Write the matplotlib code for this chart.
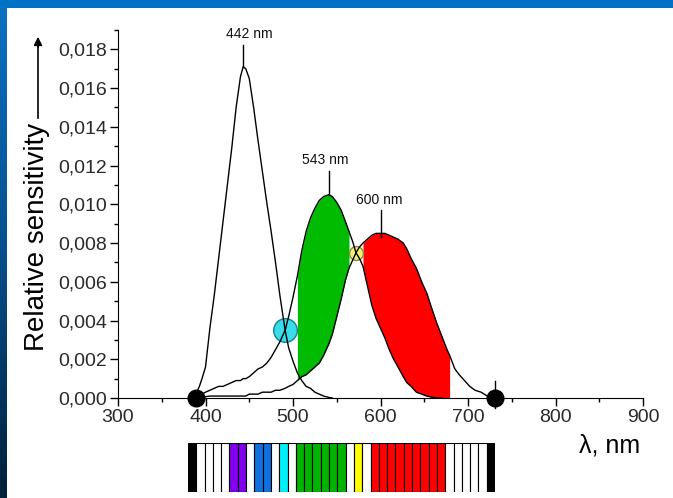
import numpy as np
import matplotlib
matplotlib.use('Agg')
import matplotlib.pyplot as plt
from matplotlib.patches import Rectangle
from matplotlib.colors import LinearSegmentedColormap
from matplotlib.ticker import MultipleLocator, FuncFormatter

plt.rcParams['font.family'] = ['Liberation Sans', 'DejaVu Sans']

# wavelength grid (nm) and cone sensitivities
wl = np.array([386, 389, 393, 396, 400, 405, 410, 415, 420, 425, 430, 435, 440, 443, 446,
               450, 455, 460, 465, 470, 475, 480, 485, 491, 495, 500, 505, 510, 515, 520,
               525, 530, 535, 541, 545, 550, 555, 560, 564, 568, 572, 576, 580, 585, 590,
               595, 600, 605, 610, 615, 620, 626, 630, 635, 641, 647, 653, 658, 664, 670,
               676, 679, 685, 690, 696, 702, 708, 715, 722, 731])
nan = np.nan
S_cone = np.array([0.0, 0.0002, 0.0006, 0.0010, 0.0016, 0.0036, 0.0053, 0.0072, 0.0091, 0.0110,
                   0.0129, 0.0150, 0.0166, 0.0171, 0.0170, 0.0165, 0.0150, 0.0133, 0.0117, 0.0101,
                   0.0086, 0.0070, 0.0053, 0.0035, 0.0026, 0.0019, 0.0013, 0.0009, 0.0006, 0.0005,
                   0.0003, 0.0002, 0.0001, 0.00003, 0.0, nan, nan, nan, nan, nan,
                   nan, nan, nan, nan, nan, nan, nan, nan, nan, nan,
                   nan, nan, nan, nan, nan, nan, nan, nan, nan, nan,
                   nan, nan, nan, nan, nan, nan, nan, nan, nan, nan])
M_cone = np.array([nan, 0.0, 0.0001, 0.0002, 0.0003, 0.0004, 0.0005, 0.0006, 0.0006, 0.0007,
                   0.0008, 0.0009, 0.0009, 0.0010, 0.0010, 0.0011, 0.0013, 0.0015, 0.0016, 0.0018,
                   0.0021, 0.0025, 0.0029, 0.0035, 0.0042, 0.0052, 0.0063, 0.0076, 0.0086, 0.0093,
                   0.0098, 0.0102, 0.0104, 0.0105, 0.0104, 0.0101, 0.0097, 0.0091, 0.0086, 0.0081,
                   0.0075, 0.0072, 0.0068, 0.0058, 0.0048, 0.0041, 0.0036, 0.0031, 0.0025, 0.0020,
                   0.0016, 0.0011, 0.0008, 0.0006, 0.0003, 0.0002, 0.0001, 0.00005, 0.0, 0.0,
                   nan, nan, nan, nan, nan, nan, nan, nan, nan, nan])
L_cone = np.array([nan, 0.0, 0.00003, 0.00005, 0.00007, 0.0001, 0.0001, 0.0001, 0.0001, 0.0001,
                   0.0001, 0.0001, 0.0001, 0.0001, 0.0001, 0.0002, 0.0002, 0.0002, 0.0003, 0.0003,
                   0.0003, 0.0004, 0.0004, 0.0005, 0.0006, 0.0007, 0.0009, 0.0011, 0.0012, 0.0014,
                   0.0016, 0.0018, 0.0022, 0.0028, 0.0033, 0.0042, 0.0051, 0.0061, 0.0067, 0.0071,
                   0.0075, 0.0078, 0.0080, 0.0082, 0.0084, 0.0085, 0.0085, 0.0085, 0.0084, 0.0083,
                   0.0082, 0.0080, 0.0077, 0.0072, 0.0067, 0.0060, 0.0054, 0.0047, 0.0039, 0.0032,
                   0.0025, 0.0022, 0.0015, 0.0012, 0.0009, 0.0006, 0.0004, 0.0003, 0.0001, 0.0])

# peak labels
peak_wl = [443, 541, 600]
peak_val = [0.0171, 0.0105, 0.0083]
peak_text = ['442 nm', '543 nm', '600 nm']
peak_text_x = [450, 537, 599]
peak_text_y = [0.0188, 0.01227, 0.0102]
peak_line_top = [0.0182, 0.0117, 0.0097]

# crossing markers
cross_wl = [491, 572]
cross_val = [0.0035, 0.0075]
end_wl = [389, 731]

# spectrum strip below the axis
strip_colors = (['black'] + ['white'] * 4 + ['#8000EE'] * 2 + ['white'] + ['#1070E0'] * 2 +
                ['white'] + ['#00F0FA'] + ['white'] + ['#00B400'] * 6 + ['white'] +
                ['#FFFF00'] + ['white'] + ['#FF0000'] * 9 + ['white'] * 5 + ['black'])

W, H = 673, 498
fig = plt.figure(figsize=(W / 100, H / 100), dpi=100)
fig.patch.set_facecolor('white')

# blue frame on top and left
bg = fig.add_axes([0, 0, 1, 1], zorder=-5)
bg.set_xlim(0, W)
bg.set_ylim(H, 0)
bg.axis('off')
cmap = LinearSegmentedColormap.from_list('frame', ['#0A70C2', '#064F8C', '#01203A'])
bg.imshow(np.linspace(0, 1, 256).reshape(-1, 1), cmap=cmap, extent=[0, 7, H, 7], aspect='auto')
bg.add_patch(Rectangle((0, 0), W, 8, color='#0072C6', lw=0))

ax = fig.add_axes([118 / W, 100 / H, 525 / W, 368 / H])
ax.set_facecolor('none')

green = (wl >= 505) & (wl <= 564)
red = (wl >= 580) & (wl <= 679)
M_fill = np.nan_to_num(M_cone)
ax.fill_between(wl, L_cone, M_fill, where=green, color='#00BB00', lw=0, zorder=1)
ax.fill_between(wl, M_fill, L_cone, where=red, color='#FF0000', lw=0, zorder=1)

ax.plot(cross_wl[0], cross_val[0], 'o', ms=17, mfc='#38DCEA', mec='#1B7F8C', mew=1, zorder=2)
ax.plot(cross_wl[1], cross_val[1], 'o', ms=10, mfc='#F4EE78', mec='#8C8A3C', mew=1, zorder=2)

for curve in (S_cone, M_cone, L_cone):
    ax.plot(wl, curve, c='k', lw=1.0, zorder=3)

for x0, y0, yt, t, tx, ty in zip(peak_wl, peak_val, peak_line_top, peak_text, peak_text_x, peak_text_y):
    ax.plot([x0, x0], [y0, yt], c='k', lw=1.0, zorder=3)
    ax.text(tx, ty, t, ha='center', va='center', fontsize=10, color='#111111')

ax.plot(end_wl, [0, 0], 'o', ms=12, c='k', zorder=5, clip_on=False)
ax.plot([end_wl[1], end_wl[1]], [-0.0005, 0.0009], c='k', lw=1.0, zorder=5, clip_on=False)

ax.set_xlim(300, 900)
ax.set_ylim(0, 0.019)
ax.spines['top'].set_visible(False)
ax.spines['right'].set_visible(False)
ax.xaxis.set_major_locator(MultipleLocator(100))
ax.xaxis.set_minor_locator(MultipleLocator(50))
ax.yaxis.set_major_locator(MultipleLocator(0.002))
ax.yaxis.set_minor_locator(MultipleLocator(0.001))
ax.yaxis.set_major_formatter(FuncFormatter(lambda v, p: f'{v:.3f}'.replace('.', ',')))
ax.set_yticks(np.arange(0, 0.0181, 0.002))
ax.tick_params(which='major', direction='out', length=6, width=1, labelsize=14, labelcolor='#2a2a2a', pad=2)
ax.tick_params(which='minor', direction='out', length=3, width=1)

fig.text(37 / W, 1 - 237 / H, 'Relative sensitivity', rotation=90, ha='center', va='center', fontsize=20)
fig.add_artist(plt.Line2D([38 / W, 38 / W], [1 - 118 / H, 1 - 42 / H], color='k', lw=1.2))
fig.text(38 / W, 1 - 40 / H, '', fontsize=1)
ax.annotate('', xy=(38 / W, 1 - 34 / H), xytext=(38 / W, 1 - 50 / H), xycoords='figure fraction',
            arrowprops=dict(arrowstyle='-|>', color='k', lw=1.2, mutation_scale=12))
fig.text(610 / W, 1 - 445 / H, 'λ, nm', ha='center', va='center', fontsize=18)

strip = fig.add_axes([188 / W, 6 / H, 307 / W, 49 / H])
strip.bar(np.arange(len(strip_colors)), 1, width=1, color=strip_colors, edgecolor='black', lw=0.8)
strip.set_xlim(-0.5, len(strip_colors) - 0.5)
strip.set_ylim(0, 1)
strip.axis('off')

plt.savefig('out.png', dpi=100)
